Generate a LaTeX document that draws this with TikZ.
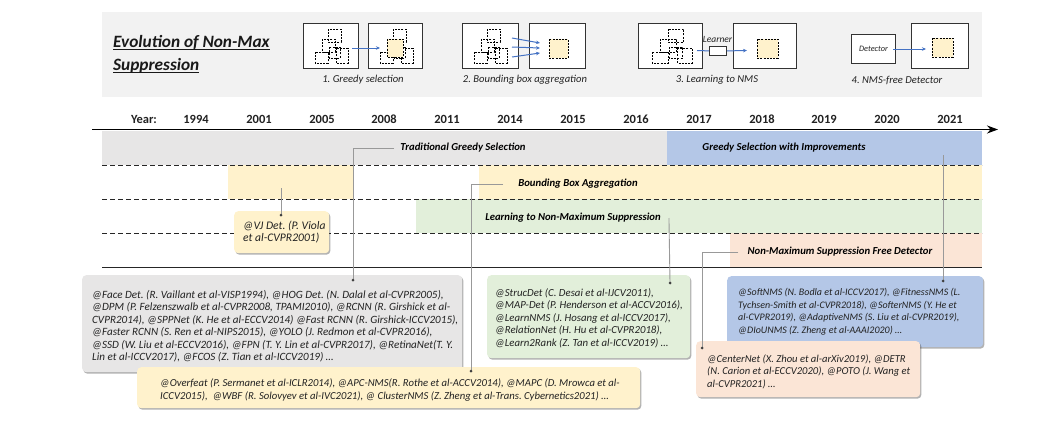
\documentclass[tikz,border=0pt]{standalone}
\usepackage{fontspec}
\setmainfont{Carlito}
\usetikzlibrary{arrows.meta,shadows,calc}
\definecolor{hdrgray}{HTML}{F2F2F2}
\definecolor{bandgray}{HTML}{E7E6E6}
\definecolor{bandblue}{HTML}{B4C7E7}
\definecolor{bandyel}{HTML}{FFF2CC}
\definecolor{bandgreen}{HTML}{E2EFDA}
\definecolor{bandorange}{HTML}{FBE5D6}
\definecolor{txt}{HTML}{222222}
\definecolor{arrowblue}{HTML}{4472C4}
\newcommand{\myuline}[1]{\setbox0=\hbox{#1}\rlap{\rule[-2.5pt]{\wd0}{1.3pt}}\box0}
\newcommand{\fs}[2]{\fontsize{#1}{#2}\selectfont\lineskiplimit=-100pt\frenchspacing\relax}
\tikzset{
  cluster/.pic={
    \draw[sq] (25,6) rectangle (38,19);
    \draw[sq] (19,16) rectangle (32,29);
    \draw[sq] (12,29) rectangle (25,40);
    \draw[sq] (33,25) rectangle (45,40);
    \draw[sq] (26,24) rectangle (37,35);
  }
}
\begin{document}
\begin{tikzpicture}[x=1pt,y=-1pt,
  yearlbl/.style={font=\fs{12.5}{14}\bfseries, text=txt},
  bandlbl/.style={font=\fs{10.7}{13}\bfseries\itshape, text=black, inner sep=3pt},
  bandsep/.style={draw=black!85, line width=0.8pt, dash pattern=on 5pt off 3pt},
  conn/.style={draw=black!40, line width=0.9pt},
  dotc/.style={fill=black!75},
  refbox/.style={rounded corners=4pt, draw=none, drop shadow={shadow xshift=1.2pt, shadow yshift=-1.5pt, opacity=0.3, fill=black}, inner sep=0pt, anchor=north west},
  reftext/.style={text=txt, align=left, anchor=west, inner sep=0pt},
  iconbox/.style={draw=black!80, line width=1pt, fill=white, inner sep=0pt, anchor=north west},
  sq/.style={draw=black, line width=0.7pt, dash pattern=on 2pt off 1.2pt},
  selsq/.style={sq, fill=bandyel},
  barrow/.style={draw=arrowblue, line width=1pt, -{Stealth[length=4pt,width=3.5pt]}},
  caption/.style={font=\fs{10.6}{12}\itshape, text=txt},
]
\useasboundingbox (0,0) rectangle (1051,429);
\fill[white] (0,0) rectangle (1051,429);
% header
\fill[hdrgray] (102,12) rectangle (982,97);
\node[anchor=west, align=left, inner sep=0pt, text=black!90, font=\fs{17.3}{23}\bfseries\itshape] (title) at (113,54.5) {\myuline{Evolution of Non-Max}\\\myuline{Suppression}};

% icon 1
\node[iconbox, minimum width=55pt, minimum height=45pt] (i1a) at (303,23) {};
\node[iconbox, minimum width=54pt, minimum height=45pt] (i1b) at (368,23) {};
\pic at (303,23) {cluster};
\pic at (368,23) {cluster};
\draw[selsq] (387,39) rectangle (403,57);
\coordinate (i1s) at (352,48);
\coordinate (i1e) at (380,48);
\draw[barrow] (i1s) -- (i1e);
\node[caption] (cap1) at (363,80) {1. Greedy selection};

% icon 2
\node[iconbox, minimum width=56pt, minimum height=45pt] (i2a) at (462,23) {};
\node[iconbox, minimum width=56pt, minimum height=45pt] (i2b) at (529,23) {};
\pic at (462,23) {cluster};
\draw[selsq] (549,39) rectangle (568,58);
\coordinate (i2s1) at (512,38); \coordinate (i2e1) at (540,43);
\coordinate (i2s2) at (512,47); \coordinate (i2e2) at (540,48);
\coordinate (i2s3) at (512,57); \coordinate (i2e3) at (540,53);
\draw[barrow] (i2s1) -- (i2e1);
\draw[barrow] (i2s2) -- (i2e2);
\draw[barrow] (i2s3) -- (i2e3);
\node[caption] (cap2) at (525,80) {2. Bounding box aggregation};

% icon 3
\node[iconbox, minimum width=64pt, minimum height=45pt] (i3a) at (638,23) {};
\node[iconbox, minimum width=63pt, minimum height=45pt] (i3b) at (733,23) {};
\pic[xscale=1.2] at (638,23) {cluster};
\draw[selsq] (757,39) rectangle (778,58);
\node[iconbox, minimum width=17pt, minimum height=9pt, line width=0.8pt] (lrn) at (709,46) {};
\node[font=\fs{9.5}{11}\itshape, text=txt, inner sep=0pt] (lrnlbl) at (717.5,39) {Learner};
\coordinate (i3s) at (697,50.5);
\coordinate (i3e) at (747,50.5);
\draw[draw=arrowblue, line width=1pt] (i3s) -- (lrn.west);
\draw[barrow] (lrn.east) -- (i3e);
\node[caption] (cap3) at (717,80) {3. Learning to NMS};

% icon 4
\node[iconbox, minimum width=44pt, minimum height=29pt] (det) at (851,34) {};
\node[font=\fs{8.3}{10}\itshape, text=txt, inner sep=0pt] (detlbl) at (det.center) {Detector};
\node[iconbox, minimum width=57pt, minimum height=45pt] (i4b) at (911,23) {};
\draw[selsq] (932,38) rectangle (953,57);
\coordinate (i4e) at (926,49);
\draw[barrow] ([xshift=-3pt]det.east) -- (i4e);
\node[caption] (cap4) at (897,80) {4. NMS-free Detector};

% years
\foreach \xx/\lab [count=\i] in {144/Year:,196/1994,259/2001,322/2005,384/2008,447/2011,510/2014,573/2015,636/2016,699/2017,762/2018,824/2019,887/2020,950/2021}
  \node[yearlbl] (yr\i) at (\xx,119) {\lab};

% bands
\fill[bandgray] (102,130.5) rectangle (667,165);
\fill[bandblue] (667,130.5) rectangle (982,165);
\fill[bandyel] (228,165) rectangle (353,199);
\fill[bandyel] (479,165) rectangle (982,199);
\fill[bandgreen] (416,199) rectangle (982,233);
\fill[bandorange] (730,233) rectangle (982,267);
\draw[bandsep] (102,165) -- (982,165);
\draw[bandsep] (102,199) -- (982,199);
\draw[bandsep] (102,233) -- (982,233);
\draw[draw=black!85, line width=0.8pt] (102,267) -- (982,267);
% axis
\coordinate (ax0) at (92,129.5);
\coordinate (ax1) at (998,129.5);
\draw[line width=1.6pt, -{Stealth[length=11pt,width=8pt]}] (ax0) -- (ax1);

\node[bandlbl] (trad) at (463,148) {Traditional Greedy Selection};
\node[bandlbl] (gsi) at (784,148) {Greedy Selection with Improvements};
\node[bandlbl] (bba) at (578,184) {Bounding Box Aggregation};
\node[bandlbl] (l2n) at (573,218) {Learning to Non-Maximum Suppression};
\node[bandlbl] (nmsf) at (840,252) {Non-Maximum Suppression Free Detector};

% reference boxes
\node[refbox, fill=bandgray, minimum width=380pt, minimum height=97pt] (gbox) at (82,275) {};
\node[reftext, font=\fs{11.1}{12.5}\itshape] (gtext) at ([xshift=10pt,yshift=-2.5pt]gbox.west) {@Face Det. (R. Vaillant et al-VISP1994), @HOG Det. (N. Dalal et al-CVPR2005),\\
@DPM (P. Felzenszwalb et al-CVPR2008, TPAMI2010), @RCNN (R. Girshick et al-\\
CVPR2014), @SPPNet (K. He et al-ECCV2014) @Fast RCNN (R. Girshick-ICCV2015),\\
@Faster RCNN (S. Ren et al-NIPS2015), @YOLO (J. Redmon et al-CVPR2016),\\
@SSD (W. Liu et al-ECCV2016), @FPN (T. Y. Lin et al-CVPR2017), @RetinaNet(T. Y.\\
Lin et al-ICCV2017), @FCOS (Z. Tian et al-ICCV2019) …};

\node[refbox, fill=bandblue, minimum width=256pt, minimum height=71pt] (bbox) at (727,276) {};
\node[reftext, font=\fs{10}{12.8}\itshape] (btext) at ([xshift=11pt]bbox.west) {@SoftNMS (N. Bodla et al-ICCV2017), @FitnessNMS (L.\\
Tychsen-Smith et al-CVPR2018), @SofterNMS (Y. He et\\
al-CVPR2019), @AdaptiveNMS (S. Liu et al-CVPR2019),\\
@DIoUNMS (Z. Zheng et al-AAAI2020) …};

\node[refbox, fill=bandgreen, minimum width=203pt, minimum height=83pt] (grbox) at (487,275) {};
\node[reftext, font=\fs{10.8}{12.5}\itshape] (grtext) at ([xshift=8pt,yshift=-1.5pt]grbox.west) {@StrucDet (C. Desai et al-IJCV2011),\\
@MAP-Det (P. Henderson et al-ACCV2016),\\
@LearnNMS (J. Hosang et al-ICCV2017),\\
@RelationNet (H. Hu et al-CVPR2018),\\
@Learn2Rank (Z. Tan et al-ICCV2019) …};

\node[refbox, fill=bandyel, minimum width=95pt, minimum height=42pt] (vjbox) at (234,211) {};
\node[reftext, font=\fs{11.6}{12.5}\itshape] (vjtext) at ([xshift=9pt]vjbox.west) {@VJ Det. (P. Viola\\et al-CVPR2001)};

\node[refbox, fill=bandyel, minimum width=503pt, minimum height=41pt] (ybox) at (137,367) {};
\node[reftext, font=\fs{10.7}{13}\itshape] (ytext) at ([xshift=23pt,yshift=-2.5pt]ybox.west) {@Overfeat (P. Sermanet et al-ICLR2014), @APC-NMS(R. Rothe et al-ACCV2014), @MAPC (D. Mrowca et al-\\
ICCV2015), \ @WBF (R. Solovyev et al-IVC2021), @ ClusterNMS (Z. Zheng et al-Trans. Cybernetics2021) …};

\node[refbox, fill=bandorange, minimum width=224pt, minimum height=56pt] (obox) at (696,341) {};
\node[reftext, font=\fs{10.6}{12.5}\itshape] (otext) at ([xshift=11pt,yshift=-2.5pt]obox.west) {@CenterNet (X. Zhou et al-arXiv2019), @DETR\\
(N. Carion et al-ECCV2020), @POTO (J. Wang et\\
al-CVPR2021) …};

% connectors
\coordinate (cTrad) at (353,280);
\coordinate (cBBA) at (471,371);
\coordinate (cL2N) at (670,283);
\coordinate (cGSItop) at (943,155);
\coordinate (cGSI) at (943,281);
\coordinate (cNMSF) at (702,348);
\coordinate (cVJtop) at (281,188);
\coordinate (cVJ) at (281,215);
\draw[conn] ([xshift=-3pt]trad.west) -| (cTrad);
\draw[conn] ([xshift=-12pt]bba.west) -| (cBBA);
\draw[conn] ([xshift=5pt]l2n.east) -- (cL2N);
\draw[conn] (cGSItop) -- (cGSI);
\draw[conn] ([xshift=-6pt]nmsf.west) -| (cNMSF);
\draw[conn] (cVJtop) -- (cVJ);
\foreach \c in {cTrad,cBBA,cL2N,cGSI,cNMSF,cVJ}
  \fill[dotc] (\c) circle (1.5);
\end{tikzpicture}
\end{document}
